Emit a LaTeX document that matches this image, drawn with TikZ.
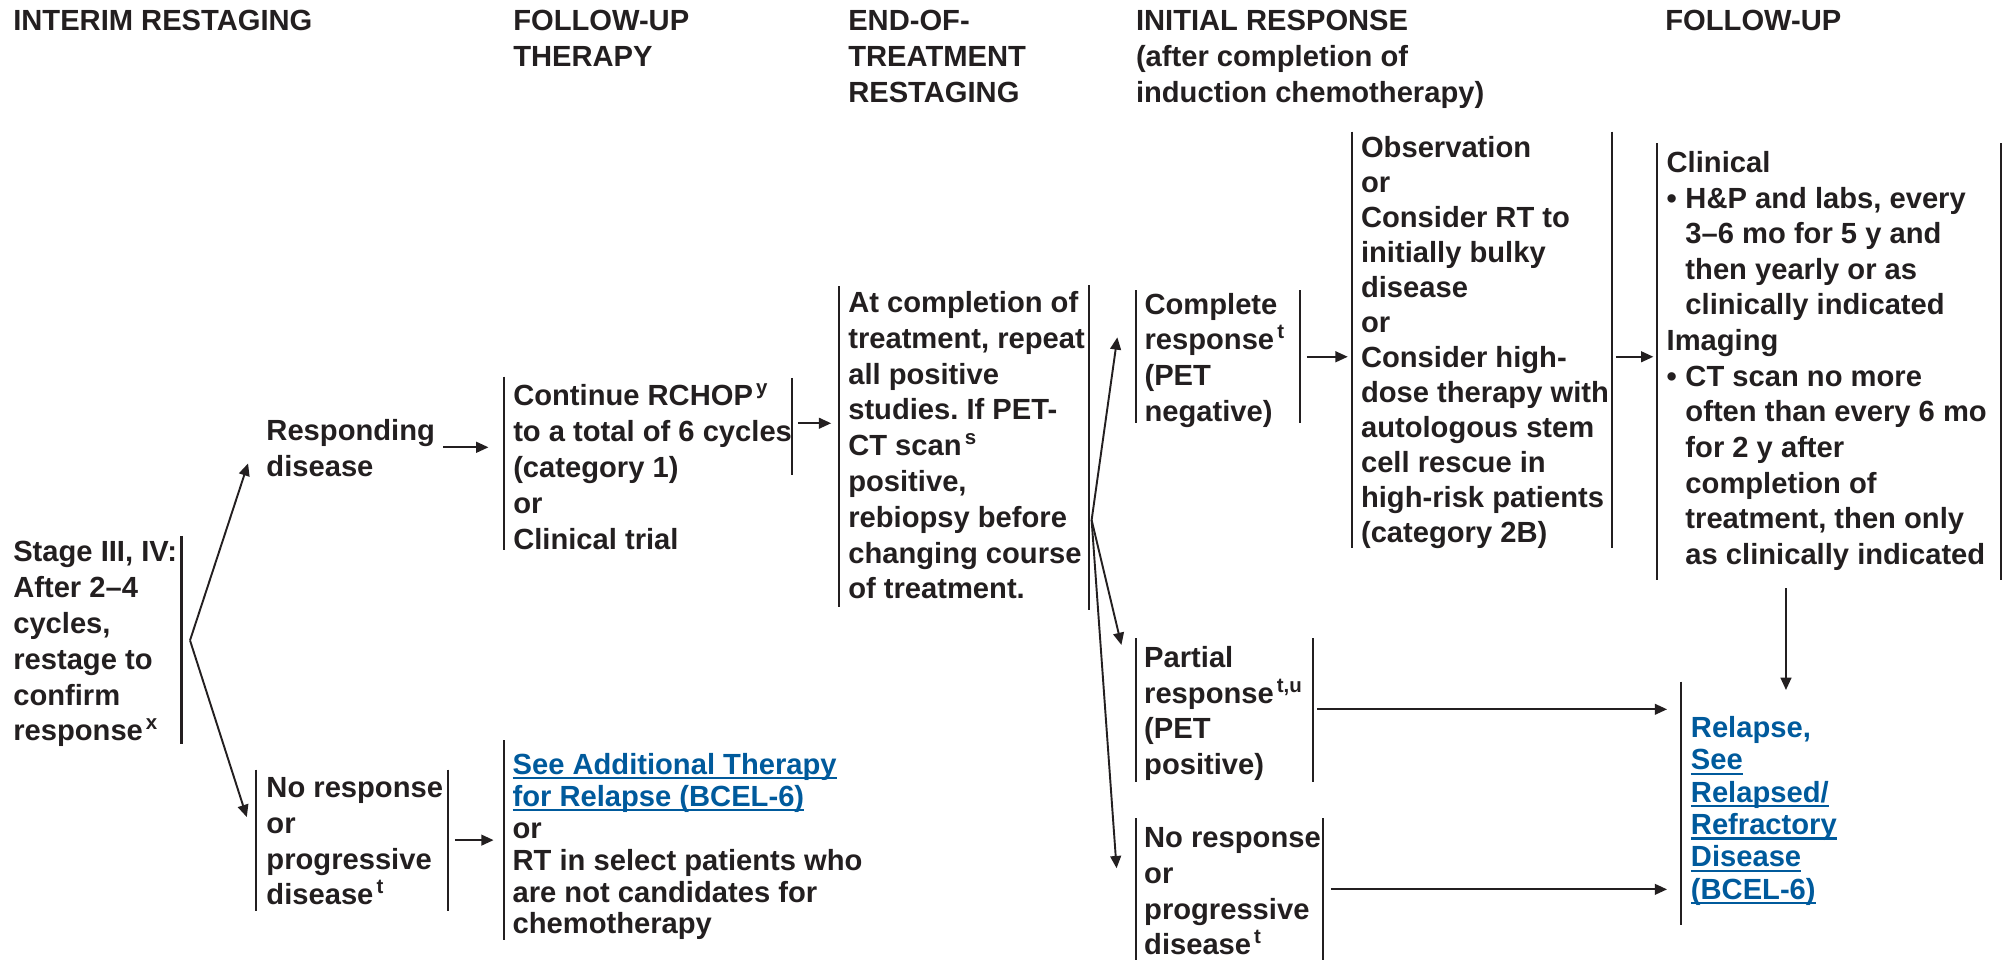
\documentclass[tikz,border=0pt]{standalone}
\usepackage{fontspec}
\setmainfont{Liberation Sans}
\usetikzlibrary{arrows.meta}
\definecolor{ink}{HTML}{231F20}
\definecolor{nccnblue}{HTML}{005A9C}
\newcommand\spr[1]{\kern1.2pt\raisebox{4.3pt}{\fontsize{8pt}{8pt}\selectfont #1}}
\newcommand\lnk[1]{\setbox0=\hbox{#1}\rlap{\rule[-2pt]{\wd0}{0.85pt}}\box0}
\newcommand\bul{\makebox[7.35pt][l]{\textbullet}}
\newcommand\ind{\hspace*{7.35pt}}
\newcommand\fst{\rule{0pt}{10pt}}
\frenchspacing
\begin{document}
\begin{tikzpicture}[x=0.5pt,y=-0.5pt,
  txt/.style={anchor=north west, inner sep=0pt, align=left, text=ink,
    font=\fontsize{11.4pt}{14pt}\selectfont\bfseries},
  tight/.style={font=\fontsize{11.4pt}{12.5pt}\selectfont\bfseries},
  bar/.style={draw=ink, line width=0.85pt},
  arr/.style={draw=ink, line width=0.75pt, -{Triangle[length=4.8pt,width=4.2pt]}}]
\useasboundingbox (0,0) rectangle (1568,751);

% headers
\node[txt] (h1) at (10,3.6) {\fst INTERIM RESTAGING};
\node[txt] (h2) at (401,3.6) {\fst FOLLOW-UP\\THERAPY};
\node[txt] (h3) at (663,3.6) {\fst END-OF-\\TREATMENT\\RESTAGING};
\node[txt] (h4) at (888,3.6) {\fst INITIAL RESPONSE\\(after completion of\\induction chemotherapy)};
\node[txt] (h5) at (1302,3.6) {\fst FOLLOW-UP};

% boxes
\node[txt] (stage) at (10,419) {\fst Stage III, IV:\\After 2–4\\cycles,\\restage to\\confirm\\response\spr{x}};
\node[txt] (resp) at (208,324) {\fst Responding\\disease};
\node[txt] (nores) at (208,603.3) {\fst No response\\or\\progressive\\disease\spr{t}};
\node[txt] (rchop) at (401,297) {\fst Continue RCHOP\spr{y}\\to a total of 6 cycles\\(category 1)\\or\\Clinical trial};
\node[txt, tight] (addl) at (400.5,585) {\fst\textcolor{nccnblue}{\lnk{See Additional Therapy}}\\\textcolor{nccnblue}{\lnk{for Relapse (BCEL-6)}}\\or\\RT in select patients who\\are not candidates for\\chemotherapy};
\node[txt] (eot) at (663,224) {\fst At completion of\\treatment, repeat\\all positive\\studies. If PET-\\CT scan\spr{s}\\positive,\\rebiopsy before\\changing course\\of treatment.};
\node[txt] (cr) at (894.7,225.2) {\fst Complete\\response\spr{t}\\(PET\\negative)};
\node[txt, font=\fontsize{11.4pt}{13.7pt}\selectfont\bfseries] (obs) at (1064,102.7) {\fst Observation\\or\\Consider RT to\\initially bulky\\disease\\or\\Consider high-\\dose therapy with\\autologous stem\\cell rescue in\\high-risk patients\\(category 2B)};
\node[txt, font=\fontsize{11.4pt}{13.93pt}\selectfont\bfseries] (fu) at (1303,114.4) {\fst Clinical\\\bul H\&P and labs, every\\\ind 3–6 mo for 5 y and\\\ind then yearly or as\\\ind clinically indicated\\Imaging\\\bul CT scan no more\\\ind often than every 6 mo\\\ind for 2 y after\\\ind completion of\\\ind treatment, then only\\\ind as clinically indicated};
\node[txt] (pr) at (894.4,501.5) {\fst Partial\\response\spr{t,u}\\(PET\\positive)};
\node[txt] (nr) at (894.4,642.3) {\fst No response\\or\\progressive\\disease\spr{t}};
\node[txt, text=nccnblue, font=\fontsize{11.4pt}{12.65pt}\selectfont\bfseries] (rel) at (1322,556.3) {\fst Relapse,\\\lnk{See}\\\lnk{Relapsed/}\\\lnk{Refractory}\\\lnk{Disease}\\\lnk{(BCEL-6)}};

% bars
\draw[bar] (142,419) -- (142,582);
\draw[bar] (200,601.8) -- (200,712.6);
\draw[bar] (350.6,601.8) -- (350.6,712.6);
\draw[bar] (394,294.6) -- (394,430);
\draw[bar] (619.5,295.6) -- (619.5,371.5);
\draw[bar] (394,579) -- (394,735);
\draw[bar] (656,224) -- (656,474.5);
\draw[bar] (851.4,223) -- (851.4,477);
\draw[bar] (888.2,226.8) -- (888.2,331);
\draw[bar] (1016.4,226.8) -- (1016.4,331);
\draw[bar] (1057,103) -- (1057,428.8);
\draw[bar] (1260.8,103) -- (1260.8,428.8);
\draw[bar] (1296,112) -- (1296,453.6);
\draw[bar] (1564.6,112) -- (1564.6,453.6);
\draw[bar] (888.4,499.2) -- (888.4,611.3);
\draw[bar] (1026.8,499.2) -- (1026.8,611.3);
\draw[bar] (888.4,640) -- (888.4,751);
\draw[bar] (1034.7,640) -- (1034.7,751);
\draw[bar] (1314.4,533) -- (1314.4,723.4);

% connector points
\coordinate (sp1) at (148.6,500.8);
\coordinate (respin) at (194,362.4);
\coordinate (noresin) at (193,639);
\coordinate (respout) at (346.7,349.8);
\coordinate (rchopin) at (382,349.8);
\coordinate (noresout) at (355.8,657);
\coordinate (addlin) at (386,657);
\coordinate (rchopout) at (624,331);
\coordinate (eotin) at (650,331);
\coordinate (sp2) at (853.7,406.7);
\coordinate (crin) at (873.8,263.8);
\coordinate (prin) at (877,504.4);
\coordinate (nrin) at (873.2,679);
\coordinate (crout) at (1022,279);
\coordinate (obsin) at (1054,279);
\coordinate (obsout) at (1263.6,279);
\coordinate (fuin) at (1293,279);
\coordinate (fuout) at (1396.7,460);
\coordinate (relin) at (1396.7,539.6);
\coordinate (prout) at (1030,554.7);
\coordinate (relinA) at (1303.7,554.7);
\coordinate (nrout) at (1040.7,695.5);
\coordinate (relinB) at (1303.7,695.5);

% connectors
\draw[arr] (sp1) -- (respin);
\draw[arr] (sp1) -- (noresin);
\draw[arr] (respout) -- (rchopin);
\draw[arr] (noresout) -- (addlin);
\draw[arr] (rchopout) -- (eotin);
\draw[arr] (sp2) -- (crin);
\draw[arr] (sp2) -- (prin);
\draw[arr] (sp2) -- (nrin);
\draw[arr] (crout) -- (obsin);
\draw[arr] (obsout) -- (fuin);
\draw[arr] (fuout) -- (relin);
\draw[arr] (prout) -- (relinA);
\draw[arr] (nrout) -- (relinB);
\end{tikzpicture}
\end{document}
